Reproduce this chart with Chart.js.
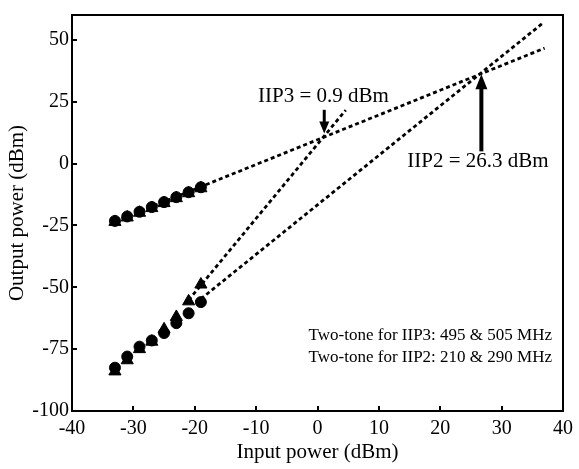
<!DOCTYPE html>
<html><head><meta charset="utf-8">
<script src="https://cdn.jsdelivr.net/npm/chart.js@4/dist/chart.umd.min.js"></script>
<style>html,body{margin:0;padding:0;background:#fff}#wrap{width:579px;height:469px}</style>
</head><body><div id="wrap"><canvas id="c" width="579" height="469"></canvas></div>
<script>
// ---- data ----
const inputPower = [-33, -31, -29, -27, -25, -23, -21, -19];
const fundIIP3 = [-23.2, -21.4, -19.5, -17.6, -15.6, -13.6, -11.6, -9.6];   // circles
const fundIIP2 = [-23.6, -21.8, -19.9, -18.0, -16.0, -14.0, -12.0, -10.0];  // triangles
const im3 = [-84.0, -79.5, -75.0, -72.0, -67.0, -62.0, -55.7, -48.9];       // triangles
const im2 = [-82.5, -78.0, -74.0, -71.5, -68.5, -64.5, -60.5, -56.0];       // circles
const fundFitX = [-33, 37];   const fundFitY = [-23.4, 46.6];
const im3FitX = [-21, 4.6];   const im3FitY = [-55.2, 21.6];
const im2FitX = [-19, 36.7];  const im2FitY = [-54.7, 56.7];
const xTicks = [-40, -30, -20, -10, 0, 10, 20, 30, 40];
const yTicks = [-100, -75, -50, -25, 0, 25, 50];
const iip3 = 0.9, iip2 = 26.3;
const iip3Label = 'IIP3 = 0.9 dBm';
const iip2Label = 'IIP2 = 26.3 dBm';
const noteLines = ['Two-tone for IIP3: 495 & 505 MHz', 'Two-tone for IIP2: 210 & 290 MHz'];

const pts = (xs, ys) => xs.map((x, i) => ({x, y: ys[i]}));
const FONT = "'Liberation Serif', 'Times New Roman', serif";

const markerSet = (data, style, r) => ({
  data, showLine: false, pointStyle: style, pointRadius: r,
  pointBackgroundColor: '#000', pointBorderColor: '#000', pointBorderWidth: 1
});
const fitSet = (data) => ({
  data, showLine: true, pointRadius: 0, borderColor: '#000', borderWidth: 2.8,
  borderDash: [4, 3], fill: false
});

function arrow(ctx, x, y0, y1, shaftW, headW, headL) {
  const dir = y1 > y0 ? 1 : -1;
  ctx.save();
  ctx.fillStyle = '#000'; ctx.strokeStyle = '#000';
  ctx.lineWidth = shaftW;
  ctx.beginPath(); ctx.moveTo(x, y0); ctx.lineTo(x, y1 - dir * headL * 0.8); ctx.stroke();
  ctx.beginPath();
  ctx.moveTo(x, y1);
  ctx.lineTo(x - headW / 2, y1 - dir * headL);
  ctx.lineTo(x + headW / 2, y1 - dir * headL);
  ctx.closePath(); ctx.fill();
  ctx.restore();
}

const decor = {
  id: 'decor',
  afterDatasetsDraw(chart) {
    const {ctx, chartArea: a, scales: {x, y}} = chart;
    ctx.save();
    ctx.strokeStyle = '#000';
    ctx.lineWidth = 2;
    ctx.strokeRect(a.left, a.top, a.right - a.left, a.bottom - a.top);
    ctx.beginPath();
    xTicks.forEach(v => { const px = Math.round(x.getPixelForValue(v)); ctx.moveTo(px, a.bottom); ctx.lineTo(px, a.bottom - 5); });
    yTicks.forEach(v => { const py = Math.round(y.getPixelForValue(v)); ctx.moveTo(a.left, py); ctx.lineTo(a.left + 5, py); });
    ctx.stroke();

    arrow(ctx, x.getPixelForValue(1.1), y.getPixelForValue(21.7), y.getPixelForValue(12.1), 3, 10, 12);
    arrow(ctx, x.getPixelForValue(26.7), y.getPixelForValue(4.9), y.getPixelForValue(36.1), 4, 12, 15);

    ctx.fillStyle = '#000';
    ctx.font = `21px ${FONT}`;
    ctx.textAlign = 'center'; ctx.textBaseline = 'alphabetic';
    ctx.fillText(iip3Label, 323.5, 102);
    ctx.fillText(iip2Label, 478, 167);
    ctx.font = `17px ${FONT}`;
    ctx.textAlign = 'right';
    ctx.fillText(noteLines[0], 552, 340);
    ctx.fillText(noteLines[1], 552, 362);
    ctx.restore();
  }
};

new Chart(document.getElementById('c'), {
  type: 'scatter',
  data: {
    datasets: [
      fitSet(pts(fundFitX, fundFitY)),
      fitSet(pts(im3FitX, im3FitY)),
      fitSet(pts(im2FitX, im2FitY)),
      markerSet(pts(inputPower, fundIIP3), 'circle', 5.5),
      markerSet(pts(inputPower, fundIIP2), 'triangle', 7),
      markerSet(pts(inputPower, im3), 'triangle', 7),
      markerSet(pts(inputPower, im2), 'circle', 5.5)
    ]
  },
  options: {
    responsive: false, animation: false, devicePixelRatio: 1,
    layout: {padding: {top: 10, right: 13, left: 0, bottom: 0}},
    plugins: {legend: {display: false}, tooltip: {enabled: false}},
    scales: {
      x: {
        type: 'linear', position: 'bottom', min: -40, max: 40,
        afterBuildTicks: s => { s.ticks = xTicks.map(v => ({value: v})); },
        afterFit: s => { s.height = 58; },
        grid: {display: false, drawTicks: false}, border: {display: false},
        ticks: {color: '#000', font: {family: FONT, size: 20}, padding: 6, maxRotation: 0, autoSkip: false},
        title: {display: true, text: 'Input power (dBm)', color: '#000', font: {family: FONT, size: 21}, padding: {top: 0, bottom: 4}}
      },
      y: {
        type: 'linear', position: 'left', min: -100, max: 60,
        afterBuildTicks: s => { s.ticks = yTicks.map(v => ({value: v})); },
        afterFit: s => { s.width = 72; },
        grid: {display: false, drawTicks: false}, border: {display: false},
        ticks: {color: '#000', font: {family: FONT, size: 20}, padding: 3, autoSkip: false},
        title: {display: true, text: 'Output power (dBm)', color: '#000', font: {family: FONT, size: 21}, padding: {top: 5, bottom: 0}}
      }
    }
  },
  plugins: [decor]
});
</script></body></html>
